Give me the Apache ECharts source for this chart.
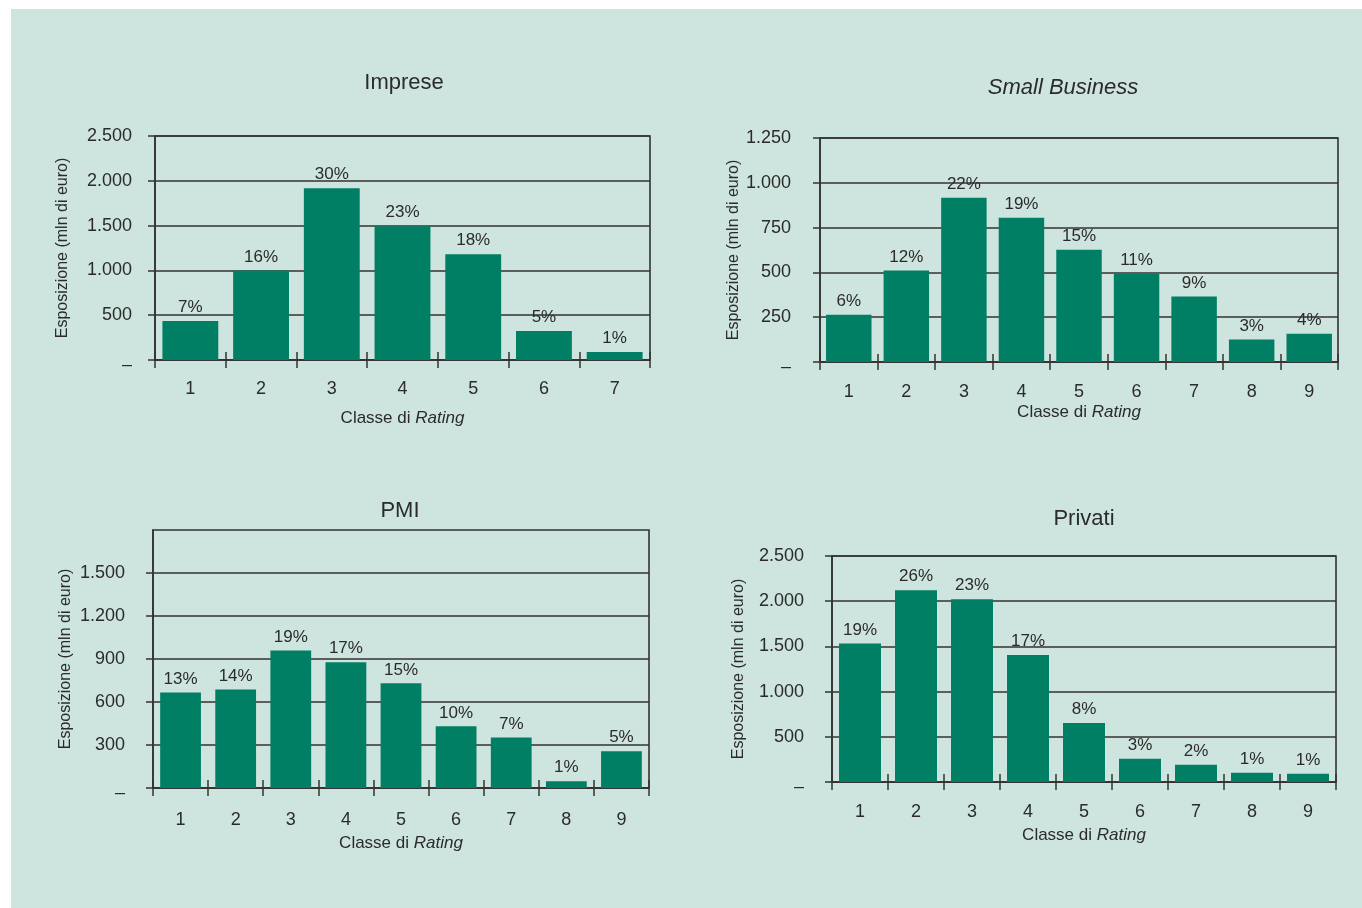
<!DOCTYPE html>
<html>
<head>
<meta charset="utf-8">
<title>Esposizione per classe di rating</title>
<script src="https://cdn.jsdelivr.net/npm/echarts@6/dist/echarts.min.js"></script>
<style>
  html, body { margin: 0; padding: 0; background: #ffffff; }
  #chart { width: 1362px; height: 908px; }
</style>
</head>
<body>
<div id="chart"></div>
<script>
// Rating classes on the x axes
const rating7 = ['1', '2', '3', '4', '5', '6', '7'];
const rating9 = ['1', '2', '3', '4', '5', '6', '7', '8', '9'];

// Exposure (mln di euro) and share of each class
const impreseValues = [435, 1000, 1917, 1493, 1181, 323, 89];
const impresePct = ['7%', '16%', '30%', '23%', '18%', '5%', '1%'];

const smallBusinessValues = [264, 510, 917, 805, 627, 493, 365, 125, 158];
const smallBusinessPct = ['6%', '12%', '22%', '19%', '15%', '11%', '9%', '3%', '4%'];

const pmiValues = [667, 688, 960, 877, 730, 430, 353, 47, 256];
const pmiPct = ['13%', '14%', '19%', '17%', '15%', '10%', '7%', '1%', '5%'];

const privatiValues = [1533, 2121, 2022, 1404, 654, 257, 191, 103, 92];
const privatiPct = ['19%', '26%', '23%', '17%', '8%', '3%', '2%', '1%', '1%'];

// Value-axis ticks
const impreseTicks = [0, 500, 1000, 1500, 2000, 2500];
const smallBusinessTicks = [0, 250, 500, 750, 1000, 1250];
const pmiTicks = [0, 300, 600, 900, 1200, 1500];
const pmiAxisMax = 1800;
const privatiTicks = [0, 500, 1000, 1500, 2000, 2500];

const titles = ['Imprese', 'Small Business', 'PMI', 'Privati'];
const yAxisName = 'Esposizione (mln di euro)';

const panels = [
  { title: titles[0], italic: false, cats: rating7, values: impreseValues, pct: impresePct,
    ticks: impreseTicks, max: 2500, interval: 500 },
  { title: titles[1], italic: true, cats: rating9, values: smallBusinessValues, pct: smallBusinessPct,
    ticks: smallBusinessTicks, max: 1250, interval: 250 },
  { title: titles[2], italic: false, cats: rating9, values: pmiValues, pct: pmiPct,
    ticks: pmiTicks, max: pmiAxisMax, interval: 300 },
  { title: titles[3], italic: false, cats: rating9, values: privatiValues, pct: privatiPct,
    ticks: privatiTicks, max: 2500, interval: 500 }
];

// Placement of each panel on the page
const layout = [
  { left: 155, top: 136, width: 495, height: 224, tx: 404, ty: 83,
    yLabelMargin: 23, yNameGap: 84, xLabelMargin: 20, xNameGap: 50, gap: '21%' },
  { left: 820, top: 138, width: 518, height: 224, tx: 1063, ty: 88,
    yLabelMargin: 29, yNameGap: 75, xLabelMargin: 21, xNameGap: 42, gap: '21%' },
  { left: 153, top: 530, width: 496, height: 258, tx: 400, ty: 511,
    yLabelMargin: 28, yNameGap: 79, xLabelMargin: 23, xNameGap: 47, gap: '26%' },
  { left: 832, top: 556, width: 504, height: 226, tx: 1084, ty: 519,
    yLabelMargin: 28, yNameGap: 85, xLabelMargin: 21, xNameGap: 45, gap: '25%' }
];

const INK = '#2b2b2b';
const LINE = '#333333';
const BAR = '#007f65';
const PANEL_BG = '#cee4de';
const FONT = "'Liberation Sans', Arial, sans-serif";

function fmtThousands(v) {
  if (v === 0) return '{z|–}';
  return String(v).replace(/\B(?=(\d{3})+(?!\d))/g, '.');
}

const grid = [], xAxis = [], yAxis = [], series = [], title = [];

panels.forEach((p, i) => {
  const L = layout[i];
  grid.push({
    left: L.left, top: L.top, width: L.width, height: L.height,
    show: true, borderColor: LINE, borderWidth: 1.6, backgroundColor: 'transparent'
  });

  title.push({
    text: p.title,
    left: L.tx, top: L.ty,
    textAlign: 'center', textVerticalAlign: 'middle',
    padding: 0,
    textStyle: { fontFamily: FONT, fontSize: 22, fontWeight: 'normal',
      fontStyle: p.italic ? 'italic' : 'normal', color: INK }
  });

  // main category axis: labels, name and ticks below the baseline
  xAxis.push({
    type: 'category', gridIndex: i, data: p.cats, position: 'bottom',
    axisLine: { show: true, lineStyle: { color: LINE, width: 1.6 } },
    axisTick: { show: true, alignWithLabel: false, length: 8, lineStyle: { color: LINE, width: 1.5 } },
    axisLabel: { margin: L.xLabelMargin, fontFamily: FONT, fontSize: 18, color: INK },
    name: '{n|Classe di }{i|Rating}',
    nameLocation: 'middle', nameGap: L.xNameGap,
    nameTextStyle: {
      rich: {
        n: { fontFamily: FONT, fontSize: 17, color: INK },
        i: { fontFamily: FONT, fontSize: 17, color: INK, fontStyle: 'italic' }
      }
    }
  });
  // companion axis on the same baseline: ticks pointing up into the plot
  xAxis.push({
    type: 'category', gridIndex: i, data: p.cats, position: 'bottom', offset: 0,
    axisLine: { show: false },
    axisTick: { show: true, inside: true, length: 8, lineStyle: { color: LINE, width: 1.5 } },
    axisLabel: { show: false }
  });

  yAxis.push({
    type: 'value', gridIndex: i, min: 0, max: p.max, interval: p.interval,
    axisLine: { show: true, lineStyle: { color: LINE, width: 1.6 } },
    axisTick: { show: true, length: 7, lineStyle: { color: LINE, width: 1.5 }, customValues: p.ticks },
    splitLine: { show: true, lineStyle: { color: LINE, width: 1.6 } },
    axisLabel: {
      customValues: p.ticks,
      margin: L.yLabelMargin, fontFamily: FONT, fontSize: 18, color: INK,
      formatter: fmtThousands,
      rich: { z: { fontFamily: FONT, fontSize: 18, color: INK, padding: [10, 0, 0, 0] } }
    },
    name: yAxisName, nameLocation: 'middle', nameRotate: 90, nameGap: L.yNameGap,
    nameTextStyle: { fontFamily: FONT, fontSize: 16, color: INK }
  });

  series.push({
    type: 'bar', xAxisIndex: i * 2, yAxisIndex: i,
    data: p.values,
    barCategoryGap: L.gap,
    itemStyle: { color: BAR },
    z: 1,
    label: {
      show: true, position: 'top', distance: 5,
      fontFamily: FONT, fontSize: 17, color: INK,
      formatter: (q) => p.pct[q.dataIndex]
    }
  });
});

const chart = echarts.init(document.getElementById('chart'), null, { renderer: 'canvas' });
chart.setOption({
  animation: false,
  backgroundColor: '#ffffff',
  graphic: [{
    type: 'rect', z: -10, silent: true,
    shape: { x: 11, y: 9, width: 1351, height: 899 },
    style: { fill: PANEL_BG }
  }],
  title, grid, xAxis, yAxis, series
});
</script>
</body>
</html>
